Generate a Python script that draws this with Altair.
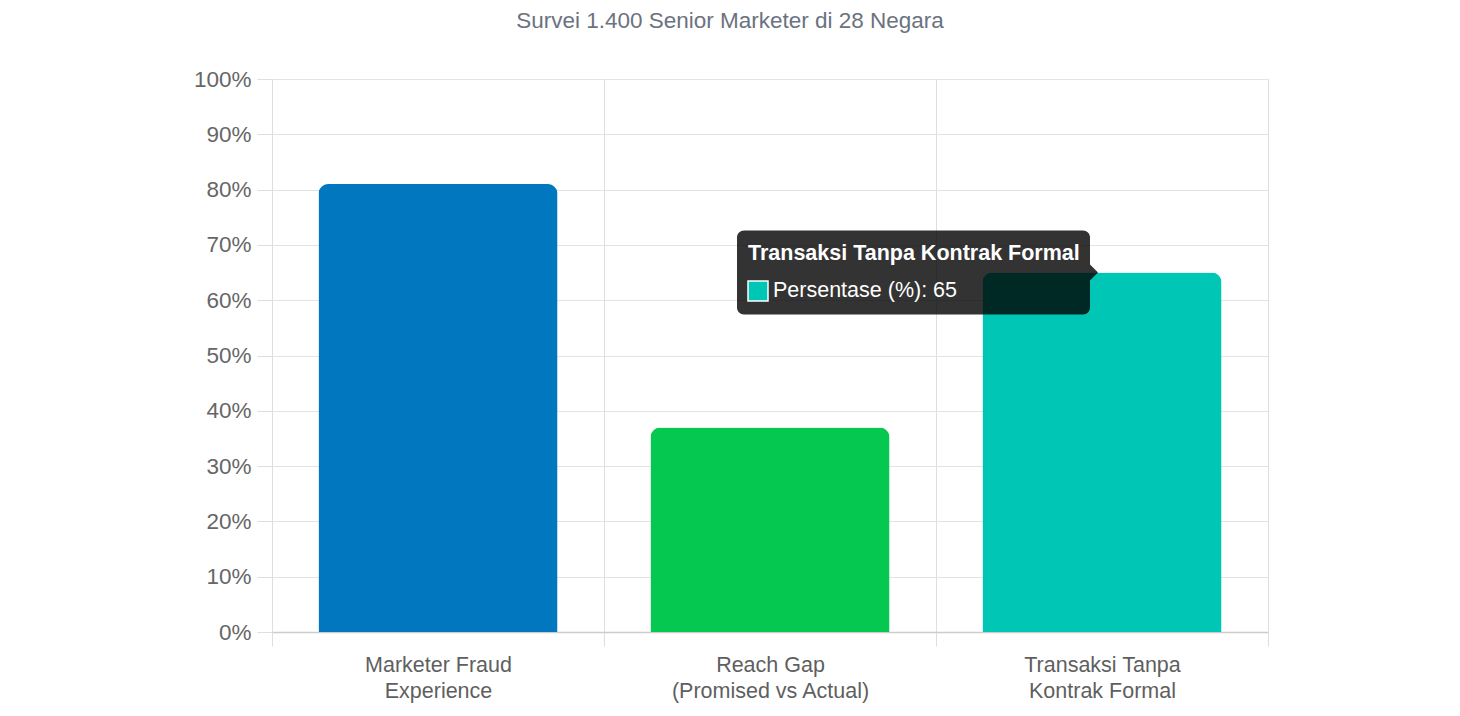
import altair as alt
import pandas as pd

categories = ["Marketer Fraud Experience", "Reach Gap (Promised vs Actual)", "Transaksi Tanpa Kontrak Formal"]
label_lines = [["Marketer Fraud", "Experience"], ["Reach Gap", "(Promised vs Actual)"], ["Transaksi Tanpa", "Kontrak Formal"]]
values = [81, 37, 65]
colors = ["#0077be", "#05c850", "#00c7b5"]
y_ticks = [0, 10, 20, 30, 40, 50, 60, 70, 80, 90, 100]

tooltip_category = "Transaksi Tanpa Kontrak Formal"
tooltip_series = "Persentase (%)"

df = pd.DataFrame({"cat": categories, "v": values, "color": colors})

FONT = "Liberation Sans"

label_map = "{" + ",".join(
    f"'{c}': ['{l[0]}', '{l[1]}']" for c, l in zip(categories, label_lines)
) + "}"

x_scale = alt.Scale(paddingInner=0, paddingOuter=0)

x_enc = alt.X(
    "cat:N",
    sort=categories,
    scale=x_scale,
    axis=alt.Axis(
        title=None,
        labelAngle=0,
        labelExpr=f"{label_map}[datum.value]",
        labelFont=FONT,
        labelFontSize=21.5,
        labelColor="#5f5f5f",
        labelLineHeight=26,
        labelPadding=8,
        labelLimit=400,
        tickBand="extent",
        tickSize=14,
        tickColor="#dedede",
        grid=True,
        gridColor="#dedede",
        domainColor="#cccccc",
        domainWidth=1.5,
    ),
)

y_scale = alt.Scale(domain=[0, 100], nice=False)

bars = alt.Chart(df).mark_bar(
    cornerRadiusTopLeft=10, cornerRadiusTopRight=10,
    width=alt.RelativeBandSize(0.72),
).encode(
    x=x_enc,
    y=alt.Y(
        "v:Q",
        scale=y_scale,
        axis=alt.Axis(
            title=None,
            values=y_ticks,
            labelExpr="datum.value + '%'",
            labelFont=FONT,
            labelFontSize=22.5,
            labelColor="#666666",
            labelPadding=6,
            tickSize=15,
            tickColor="#dedede",
            gridColor="#e3e3e3",
            domain=False,
        ),
    ),
    color=alt.Color("color:N", scale=None),
)

tip_base = alt.Chart(df).transform_filter(
    alt.datum.cat == tooltip_category
)

tip_box = tip_base.transform_calculate(
    lo="datum.v - 7.6", hi="datum.v + 7.6"
).mark_bar(
    width=353, xOffset=-188.5, cornerRadius=7, color="black", opacity=0.8
).encode(
    x=alt.X("cat:N", sort=categories, scale=x_scale),
    y=alt.Y("lo:Q", scale=y_scale),
    y2="hi:Q",
)

tip_arrow = tip_base.mark_point(
    shape="M-0.5,-1L0.5,0L-0.5,1Z", size=256, filled=True,
    color="black", opacity=0.8, xOffset=-8,
).encode(
    x=alt.X("cat:N", sort=categories, scale=x_scale),
    y=alt.Y("v:Q", scale=y_scale),
)

tip_title = tip_base.mark_text(
    align="left", baseline="middle", font=FONT, fontSize=21.5,
    fontWeight="bold", color="white", xOffset=-354, yOffset=-19,
).encode(
    x=alt.X("cat:N", sort=categories, scale=x_scale),
    y=alt.Y("v:Q", scale=y_scale),
    text="cat:N",
)

tip_swatch = tip_base.mark_point(
    shape="square", size=400, filled=True, strokeWidth=1.5,
    xOffset=-344, yOffset=18.5, opacity=1,
).encode(
    x=alt.X("cat:N", sort=categories, scale=x_scale),
    y=alt.Y("v:Q", scale=y_scale),
    fill=alt.Color("color:N", scale=None),
    stroke=alt.value("white"),
)

tip_text = tip_base.transform_calculate(
    label=f"'{tooltip_series}: ' + datum.v"
).mark_text(
    align="left", baseline="middle", font=FONT, fontSize=21.5,
    color="white", xOffset=-329, yOffset=18.5,
).encode(
    x=alt.X("cat:N", sort=categories, scale=x_scale),
    y=alt.Y("v:Q", scale=y_scale),
    text="label:N",
)

chart = alt.layer(
    bars, tip_box, tip_arrow, tip_title, tip_swatch, tip_text
).properties(
    width=996,
    height=553,
    title=alt.TitleParams(
        "Survei 1.400 Senior Marketer di 28 Negara",
        font=FONT, fontSize=22.5, fontWeight="normal", color="#6b7280",
        anchor="middle", dx=-40, offset=36,
    ),
    autosize=alt.AutoSizeParams(type="none"),
    padding={"left": 264, "top": 71, "right": 184, "bottom": 76},
).configure_view(stroke=None).configure(background="white")

chart.save("out.html", embed_options={"renderer": "svg", "actions": False})
